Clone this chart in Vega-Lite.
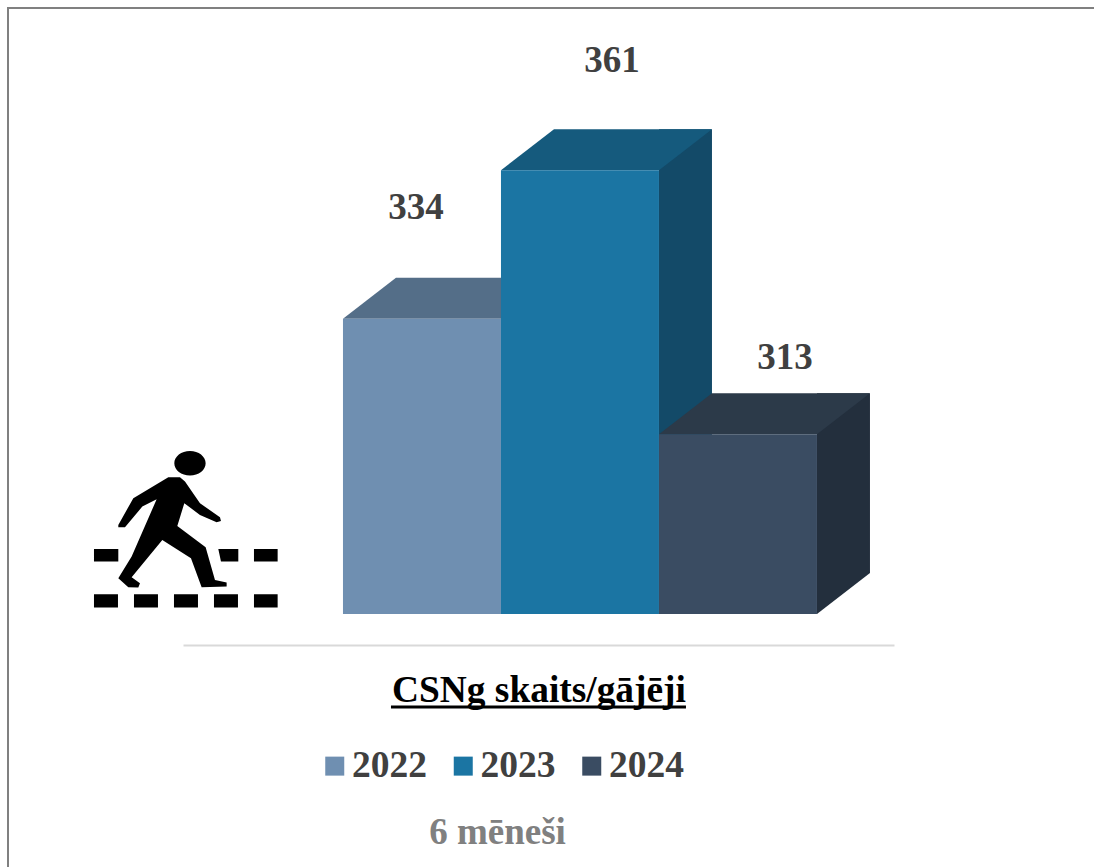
{
"$schema":"https://vega.github.io/schema/vega-lite/v6.json",
"autosize":{"type":"none"},
"padding":{"left":8,"top":8,"right":-4,"bottom":-4},
"width":1090,"height":863,
"background":"white",
"view":{"stroke":"#808080","strokeWidth":2,"fill":"white"},
"config":{"font":"Liberation Serif"},
"title":{"text":"CSNg skaits/gājēji","orient":"top","anchor":"start","frame":"group","offset":0,"dx":384,"dy":731,"baseline":"alphabetic","font":"Liberation Serif","fontWeight":"bold","fontSize":37.4,"color":"#000000"},
"data":{"values":[{"year":"2022","value":334},{"year":"2023","value":361},{"year":"2024","value":313}]},
"encoding":{
"x":{"field":"year","type":"nominal","scale":{"domain":["2022","2023","2024"],"range":[175,886],"paddingInner":0,"paddingOuter":0.75,"align":0.675},
"axis":{"labels":false,"ticks":false,"grid":false,"domain":true,"domainColor":"#d9d9d9","domainWidth":2,"offset":-226,"title":"6 mēneši","titleX":489,"titleY":198,"titleAlign":"center","titleBaseline":"alphabetic","titleFont":"Liberation Serif","titleFontWeight":"bold","titleFontSize":37,"titleColor":"#808080"}},
"y":{"field":"value","type":"quantitative","scale":{"domain":[233.57,390.48],"zero":false,"nice":false},"axis":null}
},
"layer":[
{"mark":{"type":"bar","width":53,"xOffset":105.5,"yOffset":-41,"y2Offset":-41},
"encoding":{"y2":{"datum":280.3},"color":{"field":"year","type":"nominal","scale":{"domain":["2022","2023","2024"],"range":["#43586d","#134a68","#232f3d"]},"legend":null}}},
{"mark":{"type":"point","filled":true,"size":4,"opacity":1,"strokeWidth":0,"shape":"M79,0L132,-41L79,-41Z"},
"encoding":{"y":{"datum":280.3,"type":"quantitative"},"color":{"field":"year","type":"nominal","scale":{"domain":["2022","2023","2024"],"range":["#43586d","#134a68","#232f3d"]},"legend":null}}},
{"mark":{"type":"point","filled":true,"size":4,"opacity":1,"strokeWidth":0,"shape":"M-79,0L-26,-41L132,-41L79,0Z"},
"encoding":{"color":{"field":"year","type":"nominal","scale":{"domain":["2022","2023","2024"],"range":["#546e88","#155a7d","#2c3a49"]},"legend":null}}},
{"mark":{"type":"bar"},
"encoding":{"y2":{"datum":280.3},"color":{"field":"year","type":"nominal","title":null,"scale":{"domain":["2022","2023","2024"],"range":["#6f8fb1","#1b75a3","#3a4c62"]},
"legend":{"orient":"none","legendX":308,"legendY":739,"direction":"horizontal","columns":3,"symbolType":"square","symbolSize":361,"symbolStrokeWidth":0,"labelFont":"Liberation Serif","labelFontWeight":"bold","labelFontSize":37.5,"labelColor":"#404040","labelOffset":-1.5,"columnPadding":17.5,"padding":0}}}},
{"transform":[{"filter":"datum.year == '2022'"}],"mark":{"type":"text","font":"Liberation Serif","fontWeight":"bold","fontSize":37,"color":"#404040","dx":-6,"dy":-111,"baseline":"middle"},"encoding":{"text":{"field":"value","type":"quantitative"}}},
{"transform":[{"filter":"datum.year == '2023'"}],"mark":{"type":"text","font":"Liberation Serif","fontWeight":"bold","fontSize":37,"color":"#404040","dx":32,"dy":-109,"baseline":"middle"},"encoding":{"text":{"field":"value","type":"quantitative"}}},
{"transform":[{"filter":"datum.year == '2024'"}],"mark":{"type":"text","font":"Liberation Serif","fontWeight":"bold","fontSize":37,"color":"#404040","dx":47,"dy":-76,"baseline":"middle"},"encoding":{"text":{"field":"value","type":"quantitative"}}},
{"transform":[{"filter":"datum.year == '2022'"}],"mark":{"type":"point","filled":true,"opacity":1,"strokeWidth":0,"size":0.4444,"xOffset":-237,
"shape":"M-32,-180A47,37 0 1 0 62,-180A47,37 0 1 0 -32,-180ZM-50,-138L-15,-138L0,-125L45,-60L105,-18L108,-7L95,-3L45,-25L-2,-60L-23,8L62,72L90,170L125,178L125,190L50,192L18,105L-68,50L-160,162L-135,180L-140,193L-170,192L-200,165L-160,100L-85,-72L-128,-50L-180,12L-200,12L-200,5L-155,-75ZM-273,77L-200,77L-200,115L-273,115ZM100,77L160,77L160,115L108,115ZM207,77L278,77L278,115L207,115ZM-273,213L-201,213L-201,253L-273,253ZM-153,213L-81,213L-81,253L-153,253ZM-33,213L39,213L39,253L-33,253ZM87,213L159,213L159,253L87,253ZM207,213L278,213L278,253L207,253Z"},
"encoding":{"y":{"datum":296.8,"type":"quantitative"},"color":{"value":"#000000"}}},
{"transform":[{"filter":"datum.year == '2023'"}],"mark":{"type":"point","filled":true,"opacity":1,"strokeWidth":0,"size":4,"shape":"M-189,-1.5L106,-1.5L106,1.5L-189,1.5Z"},
"encoding":{"y":{"datum":263.4,"type":"quantitative"},"color":{"value":"#000000"}}}
],
"resolve":{"scale":{"color":"independent"}}
}
